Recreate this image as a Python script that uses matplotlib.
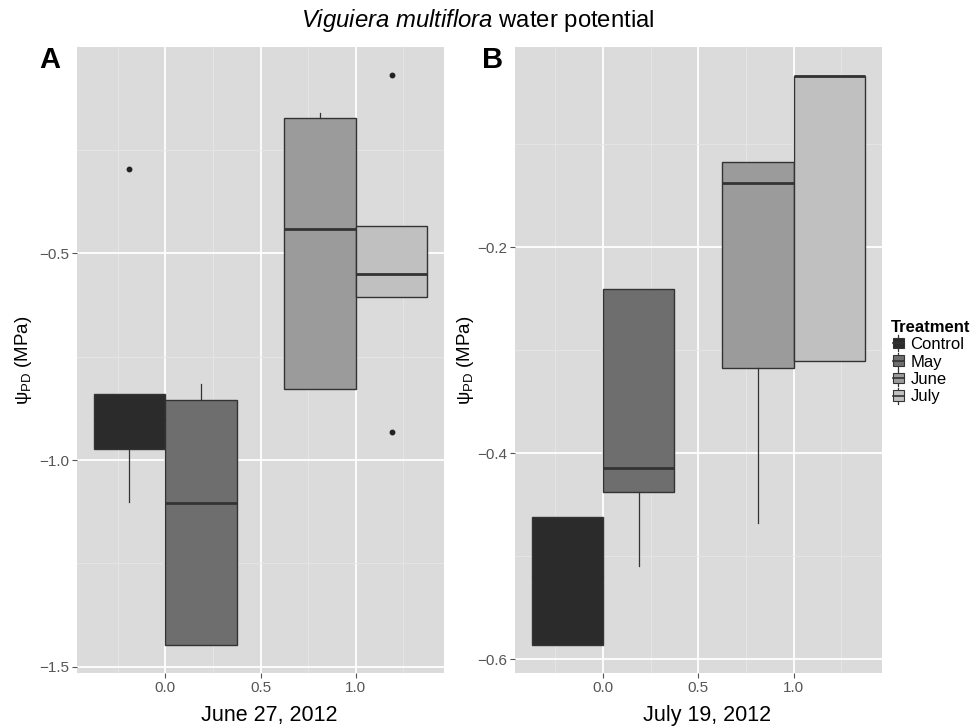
import matplotlib
matplotlib.use("Agg")
import matplotlib.pyplot as plt
from matplotlib.patches import Patch, Rectangle
from matplotlib.lines import Line2D
from matplotlib.legend_handler import HandlerBase
from matplotlib.ticker import MultipleLocator

plt.rcParams['font.family'] = ['Liberation Sans', 'DejaVu Sans']
plt.rcParams['mathtext.fontset'] = 'custom'
plt.rcParams['mathtext.rm'] = 'Liberation Sans'
plt.rcParams['mathtext.it'] = 'Liberation Sans:italic'
plt.rcParams['mathtext.bf'] = 'Liberation Sans:bold'

# ---- data ----
treatments = ["Control", "May", "June", "July"]
fills = ["#2b2b2b", "#6e6e6e", "#9b9b9b", "#c0c0c0"]
positions = [-0.1875, 0.1875, 0.8125, 1.1875]

# Panel A: June 27, 2012
a_q1 = [-0.973, -1.447, -0.828, -0.606]
a_med = [-0.900, -1.103, -0.441, -0.551]
a_q3 = [-0.841, -0.855, -0.172, -0.434]
a_whislo = [-1.102, -1.447, -0.828, -0.606]
a_whishi = [-0.841, -0.815, -0.161, -0.434]
a_fliers = [[-0.296], [], [], [-0.069, -0.931]]

# Panel B: July 19, 2012
b_q1 = [-0.586, -0.438, -0.317, -0.310]
b_med = [-0.520, -0.414, -0.138, -0.034]
b_q3 = [-0.462, -0.241, -0.117, -0.034]
b_whislo = [-0.586, -0.510, -0.468, -0.310]
b_whishi = [-0.462, -0.241, -0.117, -0.034]
b_fliers = [[], [], [], []]

panels = [
    dict(letter="A", xlabel="June 27, 2012", q1=a_q1, med=a_med, q3=a_q3,
         lo=a_whislo, hi=a_whishi, fl=a_fliers, ylim=(-1.515, -0.001),
         major=0.5, minor=0.25),
    dict(letter="B", xlabel="July 19, 2012", q1=b_q1, med=b_med, q3=b_q3,
         lo=b_whislo, hi=b_whishi, fl=b_fliers, ylim=(-0.6135, -0.0055),
         major=0.2, minor=0.1),
]

fig = plt.figure(figsize=(9.73, 7.28), dpi=100)
axes_rects = [
    [77 / 973, 1 - 673 / 728, 367 / 973, 626 / 728],
    [515 / 973, 1 - 673 / 728, 366.6 / 973, 626 / 728],
]
ylab_x = [-0.145, -0.134]
letter_x = [50 / 973, 492.5 / 973]

edge = "#333333"
for i, p in enumerate(panels):
    ax = fig.add_axes(axes_rects[i])
    ax.set_facecolor("#dbdbdb")
    for s in ax.spines.values():
        s.set_visible(False)
    ax.set_axisbelow(True)
    ax.xaxis.set_major_locator(MultipleLocator(0.5))
    ax.xaxis.set_minor_locator(MultipleLocator(0.25))
    ax.yaxis.set_major_locator(MultipleLocator(p["major"]))
    ax.yaxis.set_minor_locator(MultipleLocator(p["minor"]))
    ax.grid(which="major", color="white", linewidth=1.3)
    ax.grid(which="minor", color="#e6e6e6", linewidth=0.6)
    ax.tick_params(which="minor", length=0)
    ax.tick_params(which="major", length=3.5, width=0.8, color="#555555",
                   labelcolor="#555555", labelsize=11, pad=2)

    stats = []
    for k in range(4):
        stats.append(dict(q1=p["q1"][k], med=p["med"][k], q3=p["q3"][k],
                          whislo=p["lo"][k], whishi=p["hi"][k],
                          fliers=p["fl"][k], label=treatments[k]))
    bp = ax.bxp(stats, positions=positions, widths=0.375, patch_artist=True,
                showcaps=False, manage_ticks=False,
                boxprops=dict(edgecolor=edge, linewidth=1.0),
                whiskerprops=dict(color=edge, linewidth=0.9),
                medianprops=dict(color=edge, linewidth=2.0),
                flierprops=dict(marker="o", markersize=3.2,
                                markerfacecolor="#222222",
                                markeredgecolor="#222222"))
    for box, fc in zip(bp["boxes"], fills):
        box.set_facecolor(fc)
    # the control median blends into its dark fill in the reference
    bp["medians"][0].set_color(fills[0])

    ax.set_xlim(-0.4625, 1.4625)
    ax.set_ylim(*p["ylim"])
    ax.set_xticks([0.0, 0.5, 1.0])
    ax.set_xticklabels(["0.0", "0.5", "1.0"])

    ax.set_xlabel(p["xlabel"], fontsize=15.5, color="black", va="center")
    ax.xaxis.set_label_coords(0.523, -0.068)
    ax.set_ylabel(r"ψ$_{\rm PD}$ (MPa)", fontsize=13.5, color="black",
                  va="center")
    ax.yaxis.set_label_coords(ylab_x[i], 0.5)

    fig.text(letter_x[i], 1 - 60 / 728, p["letter"], fontsize=21,
             fontweight="bold", ha="center", va="center")

fig.text(477.5 / 973, 1 - 21 / 728,
         r"$\it{Viguiera\ multiflora}$ water potential",
         fontsize=17.2, ha="center", va="center")


class BoxHandler(HandlerBase):
    def create_artists(self, legend, orig_handle, xdescent, ydescent,
                       width, height, fontsize, trans):
        fc = orig_handle.get_facecolor()
        x0 = -xdescent
        y0 = -ydescent
        w = 7.5
        xc = x0 + width / 2
        vl = Line2D([xc, xc], [y0 - 0.2 * height, y0 + 1.2 * height],
                    color=edge, linewidth=0.9, transform=trans)
        rect = Rectangle((xc - w / 2, y0 + 0.05 * height), w, 0.9 * height,
                         facecolor=fc, edgecolor=edge, linewidth=0.8,
                         transform=trans)
        ml = Line2D([xc - w / 2, xc + w / 2], [y0 + 0.5 * height] * 2,
                    color=edge, linewidth=1.2, transform=trans)
        return [vl, rect, ml]


handles = [Patch(facecolor=c, edgecolor=edge) for c in fills]
leg = fig.legend(handles, treatments, handler_map={Patch: BoxHandler()},
                 loc="center left", bbox_to_anchor=(888 / 973, 1 - 362 / 728),
                 frameon=False, fontsize=12, title="Treatment",
                 title_fontproperties={"weight": "bold", "size": 12},
                 handlelength=0.85, handletextpad=0.3, labelspacing=0.15,
                 borderpad=0.2, borderaxespad=0)
leg._legend_box.align = "left"

fig.savefig("out.png", dpi=100)
